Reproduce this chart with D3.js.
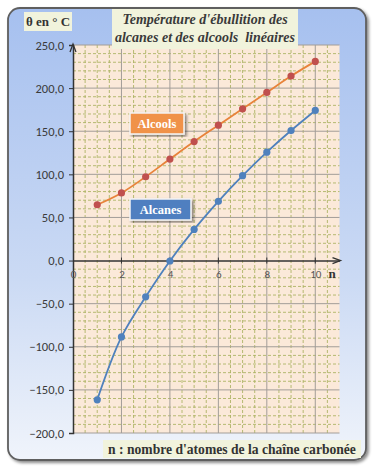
<!DOCTYPE html>
<html><head><meta charset="utf-8">
<script src="https://cdn.jsdelivr.net/npm/d3@7"></script>
<style>body{margin:0;background:#fff;}svg{display:block;}</style>
</head><body>
<svg id="c" width="374" height="466"></svg>
<script>
const nValues = [1,2,3,4,5,6,7,8,9,10];
const alcanes = [-161.5,-88.6,-42.1,-0.5,36.1,68.7,98.4,125.7,150.8,174.1];
const alcools = [64.7,78.4,97.2,117.7,138.0,157.0,176.0,195.0,214.0,231.0];
const yTicks = [250,200,150,100,50,0,-50,-100,-150,-200];
const xTicks = [0,2,4,6,8,10];
const title = ["Température d'ébullition des","alcanes et des alcools  linéaires"];
const yTitle = "θ en ° C";
const xTitle = "n";
const bottomNote = "n : nombre d'atomes de la chaîne carbonée";

const svg = d3.select("#c");
const defs = svg.append("defs");
const g = defs.append("linearGradient").attr("id","bg").attr("x1",0).attr("y1",0).attr("x2",0).attr("y2",1);
g.append("stop").attr("offset","0%").attr("stop-color","#a6c0ef");
g.append("stop").attr("offset","60%").attr("stop-color","#cbdaf4");
g.append("stop").attr("offset","100%").attr("stop-color","#f0f4fb");
const f = defs.append("filter").attr("id","sh").attr("x","-5%").attr("y","-5%").attr("width","115%").attr("height","115%");
f.append("feDropShadow").attr("dx",2).attr("dy",2).attr("stdDeviation",1.5).attr("flood-color","#000").attr("flood-opacity",0.45);

svg.append("rect").attr("x",8).attr("y",8).attr("width",358).attr("height",452).attr("rx",12)
  .attr("fill","url(#bg)").attr("stroke","#5f5f5f").attr("stroke-width",1.8).attr("filter","url(#sh)");

const x = d3.scaleLinear().domain([0,11]).range([73,339.5]);
const y = d3.scaleLinear().domain([-200,250]).range([433,45]);

// plot area
svg.append("rect").attr("x",x(0)).attr("y",y(250)).attr("width",x(11)-x(0)).attr("height",y(-200)-y(250))
  .attr("fill","#fbe9d9");

// minor grid
const minorX = d3.range(0.5,11,0.5).filter(v=>v%2!==0);
const minorY = d3.range(-190,250,10).filter(v=>v%50!==0);
svg.append("g").selectAll("line").data(minorX).join("line")
  .attr("x1",d=>x(d)).attr("x2",d=>x(d)).attr("y1",y(250)).attr("y2",y(-200))
  .attr("stroke","#a9b25f").attr("stroke-opacity",0.85).attr("stroke-width",1).attr("stroke-dasharray","3,2");
svg.append("g").selectAll("line").data(minorY).join("line")
  .attr("y1",d=>y(d)).attr("y2",d=>y(d)).attr("x1",x(0)).attr("x2",x(11))
  .attr("stroke","#a9b25f").attr("stroke-opacity",0.85).attr("stroke-width",1).attr("stroke-dasharray","3,2");
// major grid
svg.append("g").selectAll("line").data([2,4,6,8,10]).join("line")
  .attr("x1",d=>x(d)).attr("x2",d=>x(d)).attr("y1",y(250)).attr("y2",y(-200))
  .attr("stroke","#a29d98").attr("stroke-width",1);
svg.append("g").selectAll("line").data([250,200,150,100,50,-50,-100,-150,-200]).join("line")
  .attr("y1",d=>y(d)).attr("y2",d=>y(d)).attr("x1",x(0)).attr("x2",x(11))
  .attr("stroke","#a29d98").attr("stroke-width",1);

// axes
const yAxis = d3.axisLeft(y).tickValues(yTicks).tickSize(4).tickFormat(d=>d3.format(".1f")(d).replace(".",","));
const ya = svg.append("g").attr("transform",`translate(${x(0)},0)`).call(yAxis);
ya.select(".domain").attr("stroke","#333").attr("stroke-width",1.5);
ya.selectAll(".tick line").attr("stroke","#333");
ya.selectAll("text").attr("font-family","Carlito, 'Liberation Sans', sans-serif").attr("font-size",12.5).attr("fill","#3a3a3a").attr("dx",-2);

const xAxis = d3.axisBottom(x).tickValues(xTicks).tickSize(0).tickFormat(d3.format("d"));
const xa = svg.append("g").attr("transform",`translate(0,${y(0)})`).call(xAxis);
xa.select(".domain").attr("stroke","#333").attr("stroke-width",1.5);
xa.selectAll("text").attr("font-family","Carlito, 'Liberation Sans', sans-serif").attr("font-size",11).attr("fill","#555").attr("dy","1.3em");
// small x ticks
svg.append("g").selectAll("line").data(xTicks.slice(1)).join("line")
  .attr("x1",d=>x(d)).attr("x2",d=>x(d)).attr("y1",y(0)-3).attr("y2",y(0)+3).attr("stroke","#333");

// arrows
svg.append("path").attr("d",`M${x(0)-3},${y(250)+7}L${x(0)},${y(250)-1}L${x(0)+3},${y(250)+7}`).attr("fill","none").attr("stroke","#333").attr("stroke-width",1.3);
svg.append("path").attr("d",`M${x(11)-7},${y(0)-3}L${x(11)+1},${y(0)}L${x(11)-7},${y(0)+3}`).attr("fill","none").attr("stroke","#333").attr("stroke-width",1.3);

// lines
const line = d3.line().x((d,i)=>x(nValues[i])).y(d=>y(d)).curve(d3.curveCatmullRom);
svg.append("path").datum(alcools).attr("d",line).attr("fill","none").attr("stroke","#e8833a").attr("stroke-width",1.8);
svg.append("path").datum(alcanes).attr("d",line).attr("fill","none").attr("stroke","#4f81bd").attr("stroke-width",1.8);
svg.append("g").selectAll("circle").data(alcools).join("circle")
  .attr("cx",(d,i)=>x(nValues[i])).attr("cy",d=>y(d)).attr("r",3.6).attr("fill","#c0504d");
svg.append("g").selectAll("circle").data(alcanes).join("circle")
  .attr("cx",(d,i)=>x(nValues[i])).attr("cy",d=>y(d)).attr("r",3.6).attr("fill","#4f81bd");

const serif = "'Liberation Serif', 'DejaVu Serif', serif";
// title box
svg.append("rect").attr("x",112).attr("y",9).attr("width",186).attr("height",40).attr("fill","#f1f3dc");
svg.append("g").selectAll("text").data(title).join("text")
  .attr("x",205).attr("y",(d,i)=>24+i*18).attr("text-anchor","middle")
  .attr("font-family",serif).attr("font-style","italic").attr("font-weight","bold").attr("font-size",14).attr("fill","#3a3a3a")
  .attr("xml:space","preserve").style("white-space","pre").text(d=>d);

// y title
svg.append("rect").attr("x",24).attr("y",12).attr("width",48).attr("height",19).attr("fill","#f1f3dc");
svg.append("text").attr("x",48).attr("y",26).attr("text-anchor","middle").attr("font-family",serif)
  .attr("font-weight","bold").attr("font-size",13).attr("fill","#333").text(yTitle);

// n label
svg.append("text").attr("x",332).attr("y",278).attr("text-anchor","middle").attr("font-family",serif)
  .attr("font-weight","bold").attr("font-size",13).attr("fill","#333").text(xTitle);

// bottom note
svg.append("rect").attr("x",103).attr("y",440).attr("width",258).attr("height",18).attr("fill","#f1f3dc");
svg.append("text").attr("x",232).attr("y",454).attr("text-anchor","middle").attr("font-family",serif)
  .attr("font-weight","bold").attr("font-size",13.6).attr("fill","#333").text(bottomNote);

// series labels
function tag(x0,y0,w,h,fill,txt){
  svg.append("rect").attr("x",x0).attr("y",y0).attr("width",w).attr("height",h).attr("fill",fill)
    .attr("stroke","#f4f4f4").attr("stroke-width",1.5).attr("filter","url(#sh)");
  svg.append("text").attr("x",x0+w/2).attr("y",y0+h/2+4).attr("text-anchor","middle").attr("font-family",serif)
    .attr("font-weight","bold").attr("font-size",12.5).attr("fill","#fff").text(txt);
}
tag(130,113,54,21,"#f0924a","Alcools");
tag(130,199,61,21,"#4f7fc0","Alcanes");
</script>
</body></html>
